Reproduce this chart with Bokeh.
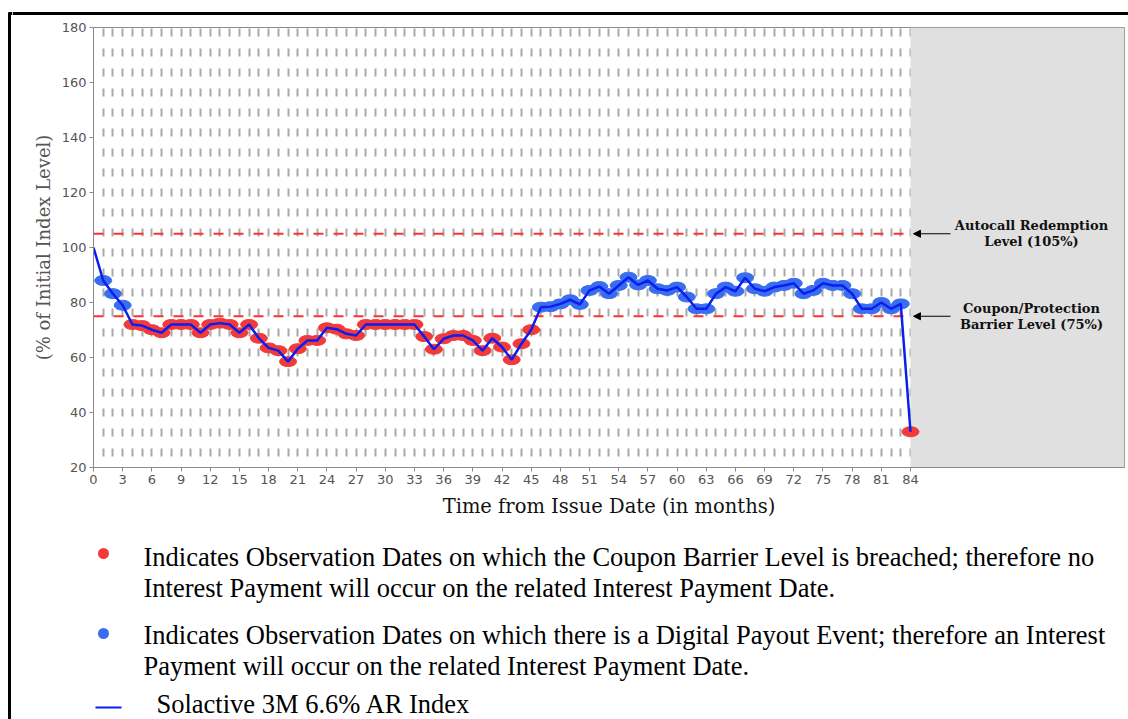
from bokeh.plotting import figure
from bokeh.layouts import row, column
from bokeh.models import (Range1d, FixedTicker, BoxAnnotation, Label, Arrow,
                          NormalHead, ColumnDataSource)
from bokeh.core.properties import value
from bokeh.embed import file_html
from bokeh.resources import INLINE

# ---------------- data ----------------
months = list(range(0, 85))
index_level = [
    100, 88, 83.2, 79, 72, 71.6, 70.1, 69, 72, 72,
    72, 69, 72, 72.5, 72, 69, 72, 67, 63.5, 62.5,
    58.5, 63.2, 66.2, 66.2, 70.8, 70.3, 68.6, 68, 72, 72,
    72, 72, 72, 72, 67.6, 63, 66.8, 68, 68, 66.2,
    62.5, 67, 63.8, 59.2, 65, 70.1, 78.3, 78.5, 79.5, 81,
    79.3, 84.4, 85.8, 83.2, 86.2, 89.2, 86.4, 88, 85, 84.4,
    85.6, 82, 77.7, 77.7, 83.2, 85.6, 84.1, 89, 85, 84.1,
    85.6, 86.2, 87, 83.2, 84.4, 87, 86.2, 86.2, 83.2, 77.7,
    77.7, 80, 77.7, 79.5, 33,
]
autocall_level = 105
barrier_level = 75
final_month = 84
x_ticks = list(range(0, 85, 3))
y_ticks = [20, 40, 60, 80, 100, 120, 140, 160, 180]
grid_months = list(range(1, 85))

legend_red = ["Indicates Observation Dates on which the Coupon Barrier Level is breached; therefore no",
              "Interest Payment will occur on the related Interest Payment Date."]
legend_blue = ["Indicates Observation Dates on which there is a Digital Payout Event; therefore an Interest",
               "Payment will occur on the related Interest Payment Date."]
legend_line = "Solactive 3M 6.6% AR Index"
autocall_text = ["Autocall Redemption", "Level (105%)"]
barrier_text = ["Coupon/Protection", "Barrier Level (75%)"]

RED = "#f23a3a"
BLUE = "#3a6ef0"
LINE = "#0a1ef0"

# ---------------- layout geometry (page px) ----------------
TOTAL_W, TOTAL_H = 1128, 719
LEFT_W = 12          # strip carrying the black left border
TOP_H = 20           # strip carrying the black top border
CHART_H = 500
LEG_H = TOTAL_H - TOP_H - CHART_H
RIGHT_W = TOTAL_W - LEFT_W


def blank(width, height, xr, yr):
    f = figure(width=width, height=height, output_backend="svg", toolbar_location=None,
               x_range=Range1d(*xr), y_range=Range1d(*yr),
               x_axis_location=None, y_axis_location=None, min_border=0,
               frame_align=False)
    f.outline_line_color = None
    f.grid.visible = False
    f.background_fill_color = "white"
    f.border_fill_color = "white"
    return f


# left strip: vertical black border
left = blank(LEFT_W, TOTAL_H, (0, LEFT_W), (TOTAL_H, 0))
left.segment(x0=[9, 8], y0=[12, 13], x1=[9, LEFT_W], y1=[TOTAL_H, 13],
             line_color="black", line_width=3)

# top strip: horizontal black border
top = blank(RIGHT_W, TOP_H, (LEFT_W, TOTAL_W), (TOP_H, 0))
top.segment(x0=[LEFT_W], y0=[13], x1=[TOTAL_W], y1=[13], line_color="black", line_width=3)

# ---------------- chart ----------------
FL, FR, FT, FB = 93, 1124, 27, 467   # frame edges in page px
X_PER_MONTH = (910 - 93) / 84
X_MAX = (FR - FL) / X_PER_MONTH

p = figure(width=RIGHT_W, height=CHART_H, output_backend="svg", toolbar_location=None,
           x_range=Range1d(0, X_MAX), y_range=Range1d(20, 180),
           min_border_left=FL - LEFT_W, min_border_top=FT - TOP_H,
           min_border_right=TOTAL_W - FR, min_border_bottom=TOP_H + CHART_H - FB,
           frame_align=False)
p.background_fill_color = "white"
p.border_fill_color = "white"
p.outline_line_color = "#8a8a8a"
p.outline_line_width = 1


def dx(px):
    return (px - FL) / X_PER_MONTH


def dy(py):
    return 20 + (FB - py) / (FB - FT) * 160


# gray region after maturity
p.add_layout(BoxAnnotation(left=final_month, fill_color="#e0e0e0", fill_alpha=1,
                           line_color=None, level="underlay"))

# grids
p.ygrid.visible = False
p.xgrid.ticker = FixedTicker(ticks=grid_months)
p.xgrid.grid_line_color = "#a8a8a8"
p.xgrid.grid_line_width = 2
p.xgrid.grid_line_dash = "8 12"
p.xgrid.grid_line_dash_offset = 9

# axes
for ax in (p.xaxis[0], p.yaxis[0]):
    ax.axis_line_color = "#8a8a8a"
    ax.major_tick_line_color = "#8a8a8a"
    ax.minor_tick_line_color = None
    ax.major_tick_out = 4
    ax.major_tick_in = 0
    ax.major_label_text_font = "DejaVu Sans"
    ax.major_label_text_font_size = "13px"
    ax.major_label_text_color = "#555555"
    ax.major_label_standoff = 3
p.xaxis.ticker = FixedTicker(ticks=x_ticks)
p.yaxis.ticker = FixedTicker(ticks=y_ticks)
p.xaxis.axis_label = "Time from Issue Date (in months)"
p.xaxis.axis_label_text_font = "DejaVu Serif"
p.xaxis.axis_label_text_font_style = "normal"
p.xaxis.axis_label_text_font_size = "19.5px"
p.xaxis.axis_label_text_color = "#111111"
p.xaxis.axis_label_standoff = 8
p.yaxis.axis_label = "(% of Initial Index Level)"
p.yaxis.axis_label_text_font = "DejaVu Serif"
p.yaxis.axis_label_text_font_style = "normal"
p.yaxis.axis_label_text_font_size = "18px"
p.yaxis.axis_label_text_color = "#555555"
p.yaxis.axis_label_standoff = 5

# barrier lines
p.segment(x0=[0, 0], x1=[final_month, final_month],
          y0=[autocall_level, barrier_level], y1=[autocall_level, barrier_level],
          line_color="#ff3030", line_width=2, line_dash="10 10")

# observation markers
obs_m = months[1:]
obs_v = index_level[1:]
colors = [BLUE if v >= barrier_level else RED for v in obs_v]
src = ColumnDataSource(dict(x=obs_m, y=obs_v, c=colors))
p.ellipse(x="x", y="y", width=17, height=10, width_units="screen", height_units="screen",
          fill_color="c", line_color="c", source=src)

# index line
p.line(months, index_level, line_color=LINE, line_width=2.5)

# annotations on the right
for lvl, txt in ((autocall_level, autocall_text), (barrier_level, barrier_text)):
    p.add_layout(Arrow(end=NormalHead(size=7, fill_color="black", line_color="black"),
                       x_start=dx(950), y_start=lvl, x_end=dx(913), y_end=lvl,
                       line_color="black", line_width=1))
    yc = FB - (lvl - 20) / 160 * (FB - FT)
    for i, t in enumerate(txt):
        p.add_layout(Label(x=dx(1031), y=dy(yc - 8 + 16 * i), text=t, text_align="center",
                           text_baseline="middle", text_font="DejaVu Serif",
                           text_font_style="bold", text_font_size="13px", text_color="#111111"))

# ---------------- legend area ----------------
y0 = TOP_H + CHART_H
leg = blank(RIGHT_W, LEG_H, (LEFT_W, TOTAL_W), (TOTAL_H, y0))
leg_text = legend_red + legend_blue + [legend_line]
leg_x = [143, 143, 143, 143, 156]
leg_y = [556, 587, 634, 665, 703]
leg.text(x=leg_x, y=leg_y, text=leg_text, text_baseline="middle", text_align="left",
         text_font=value("Liberation Serif"), text_font_size="26.5px", text_color="black")
leg.scatter(x=[103, 103], y=[553, 633], size=11, fill_color=[RED, BLUE], line_color=None)
leg.segment(x0=[95], y0=[707], x1=[121], y1=[707], line_color=LINE, line_width=2)

layout = row(left, column(top, p, leg))
open("out.html", "w").write(file_html(layout, INLINE))
